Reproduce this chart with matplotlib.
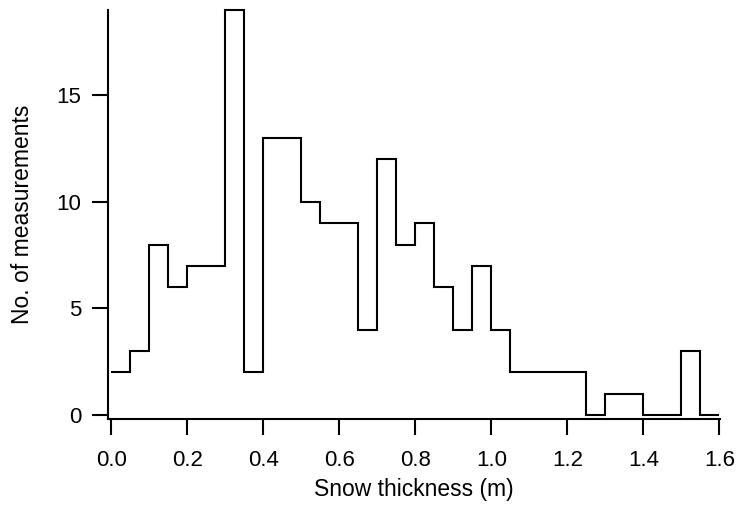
import matplotlib.pyplot as plt
import numpy as np

plt.rcParams['font.family'] = 'Liberation Sans'

# bin edges (m) and counts per bin
bin_edges = np.round(np.arange(0.0, 1.6001, 0.05), 2)
counts = [2, 3, 8, 6, 7, 7, 19, 2, 13, 13,
          10, 9, 9, 4, 12, 8, 9, 6, 4, 7,
          4, 2, 2, 2, 2, 0, 1, 1, 0, 0,
          3, 0]
xticks = [0.0, 0.2, 0.4, 0.6, 0.8, 1.0, 1.2, 1.4, 1.6]
yticks = [0, 5, 10, 15]

fig = plt.figure(figsize=(7.38, 5.08), dpi=100)
ax = fig.add_axes([0.147, 0.1752, 0.8286, 0.8045])

ax.stairs(counts, bin_edges, baseline=None, color='black', linewidth=1.5, clip_on=False)

ax.set_xlim(-0.0079, 1.6013)
ax.set_ylim(-0.19, 19.0)
ax.set_xticks(xticks)
ax.set_xticklabels(['%.1f' % t for t in xticks])
ax.set_yticks(yticks)

for s in ['top', 'right']:
    ax.spines[s].set_visible(False)
for s in ['left', 'bottom']:
    ax.spines[s].set_linewidth(1.5)

ax.tick_params(axis='x', direction='out', length=11.5, width=1.5, labelsize=16, pad=11)
ax.tick_params(axis='y', direction='out', length=11.5, width=1.5, labelsize=16, pad=8)

ax.set_xlabel('Snow thickness (m)', fontsize=16.5, labelpad=5)
ax.set_ylabel('No. of measurements', fontsize=16.5, labelpad=16)

fig.savefig('out.png', dpi=100)
